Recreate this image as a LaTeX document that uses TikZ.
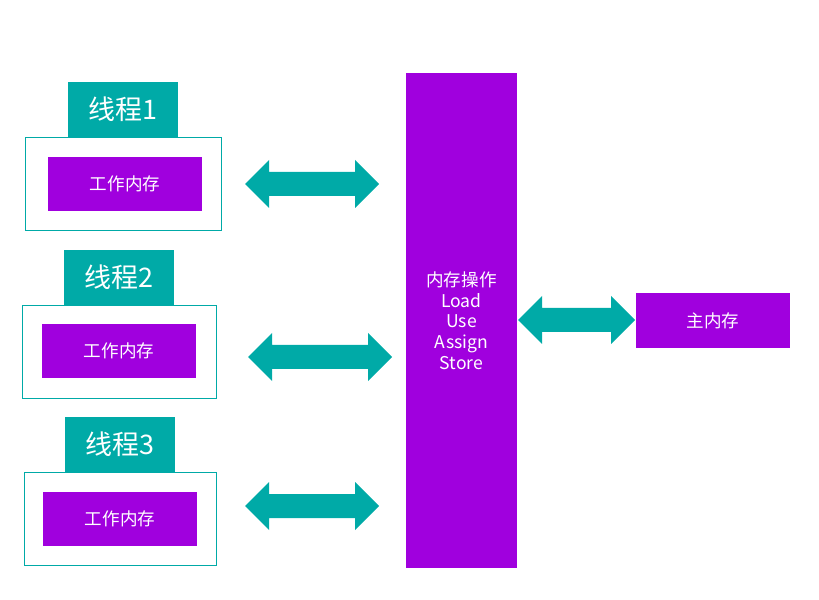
\documentclass[tikz,border=0pt]{standalone}
\usepackage{fontspec}
\setmainfont{Noto Sans CJK SC}
\usepackage{xcolor}
\usepackage{tikz}
\definecolor{thrteal}{RGB}{0,170,167}
\definecolor{mempurple}{RGB}{160,0,222}
\newcommand{\px}{0.3mm}

\begin{document}
\begin{tikzpicture}[x=\px, y=-\px,
        every node/.style={inner sep=0, text=white},
        threadbox/.style={draw=thrteal, line width=0.7pt, minimum width=194*\px, minimum height=93*\px},
        threadlbl/.style={fill=thrteal, minimum width=110*\px, minimum height=55*\px, font=\fontsize{23}{26}\selectfont},
        workmem/.style={fill=mempurple, minimum width=154*\px, minimum height=54*\px, font=\fontsize{15}{17}\selectfont}]
        \useasboundingbox (0,0) rectangle (819,600);

        % threads
        \node[threadbox, minimum width=196*\px] (box1) at (123,183.5) {};
        \node[threadlbl] (lbl1) at (123,109.5) {线程1};
        \node[workmem] (work1) at (125,184) {工作内存};

        \node[threadbox] (box2) at (119,351.5) {};
        \node[threadlbl] (lbl2) at (119,277.5) {线程2};
        \node[workmem] (work2) at (119,351) {工作内存};

        \node[threadbox, minimum width=192*\px] (box3) at (120,518.5) {};
        \node[threadlbl] (lbl3) at (120,444.5) {线程3};
        \node[workmem] (work3) at (120,519) {工作内存};

        % memory operations and main memory
        \node[fill=mempurple, minimum width=111*\px, minimum height=495*\px, align=center,
            font=\fontsize{15}{17.6}\selectfont] (ops) at (461.5,320.5)
            {内存操作\\Load\\Use\\Assign\\Store};
        \node[workmem, minimum height=55*\px] (main) at (713,320.5) {主内存};

        % block arrows
        \foreach \a/\b/\y in {245/379/184, 248/392/357, 245/379/506, 518/635/320}
            \fill[thrteal] (\a,\y) -- (\a+24,\y-24) -- (\a+24,\y-12) -- (\b-24,\y-12)
                -- (\b-24,\y-24) -- (\b,\y) -- (\b-24,\y+24) -- (\b-24,\y+12)
                -- (\a+24,\y+12) -- (\a+24,\y+24) -- cycle;
    \end{tikzpicture}
\end{document}
